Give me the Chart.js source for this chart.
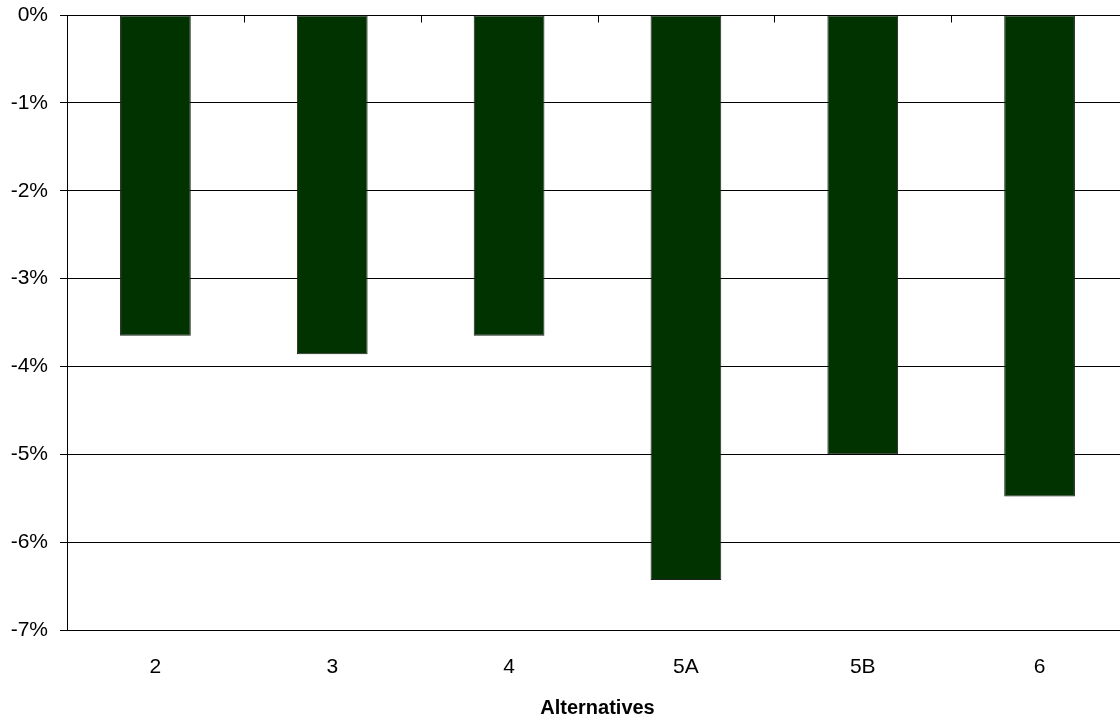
<!DOCTYPE html>
<html lang="en">
<head>
  <meta charset="UTF-8" />
  <title>Alternatives - Percent Change</title>
  <script src="https://cdn.jsdelivr.net/npm/chart.js"></script>
  <style>
    html, body { margin: 0; height: 100%; background: #fff; overflow: hidden; }
    #wrap { width: 1128px; height: 723px; position: relative; }
  </style>
</head>
<body>
<div id="wrap">
  <canvas id="chart"></canvas>
</div>
<script>
const alternatives = ['2', '3', '4', '5A', '5B', '6'];
const pctChange = [-3.65, -3.86, -3.65, -6.43, -5.0, -5.48];
const yTicks = [0, -1, -2, -3, -4, -5, -6, -7];

const FONT = "'Liberation Sans', Arial, sans-serif";

// short tick marks hanging below the zero line between categories
const zeroTicks = {
  id: 'zeroTicks',
  afterDatasetsDraw(chart) {
    const { ctx, scales: { x, y } } = chart;
    const y0 = Math.round(y.getPixelForValue(0)) + 0.5;
    ctx.save();
    ctx.strokeStyle = '#000';
    ctx.lineWidth = 1;
    ctx.beginPath();
    for (let i = 1; i < alternatives.length; i++) {
      const px = Math.round((x.getPixelForValue(i - 1) + x.getPixelForValue(i)) / 2) + 0.5;
      ctx.moveTo(px, y0);
      ctx.lineTo(px, y0 + 7);
    }
    ctx.stroke();
    ctx.restore();
  }
};

new Chart(document.getElementById('chart'), {
  type: 'bar',
  data: {
    labels: alternatives,
    datasets: [{
      data: pctChange,
      backgroundColor: '#003300',
      borderColor: '#222',
      borderWidth: 1,
      borderSkipped: false,
      barPercentage: 0.4,
      categoryPercentage: 1
    }]
  },
  options: {
    responsive: true,
    maintainAspectRatio: false,
    animation: false,
    layout: { padding: { top: 15, right: 0, left: 0, bottom: 0 } },
    plugins: { legend: { display: false }, tooltip: { enabled: false } },
    scales: {
      x: {
        grid: { display: false, drawTicks: false },
        border: { display: false },
        ticks: { color: '#000', font: { family: FONT, size: 21 }, padding: 25 },
        title: {
          display: true, text: 'Alternatives', color: '#000',
          font: { family: FONT, size: 20, weight: 'bold' },
          padding: { top: 0, bottom: 3 }
        },
        afterFit(s) { s.height = 93; s.paddingLeft = 0; s.paddingRight = 0; }
      },
      y: {
        min: -7, max: 0,
        afterBuildTicks(s) { s.ticks = yTicks.map(v => ({ value: v })); },
        grid: { color: '#000', lineWidth: 1, tickLength: 7, tickColor: '#000' },
        border: { display: true, color: '#000', width: 1 },
        ticks: {
          color: '#000', font: { family: FONT, size: 21 }, padding: 12,
          callback: v => v + '%'
        },
        afterFit(s) { s.width = 67; s.paddingTop = 0; s.paddingBottom = 0; }
      }
    }
  },
  plugins: [zeroTicks]
});
</script>
</body>
</html>
